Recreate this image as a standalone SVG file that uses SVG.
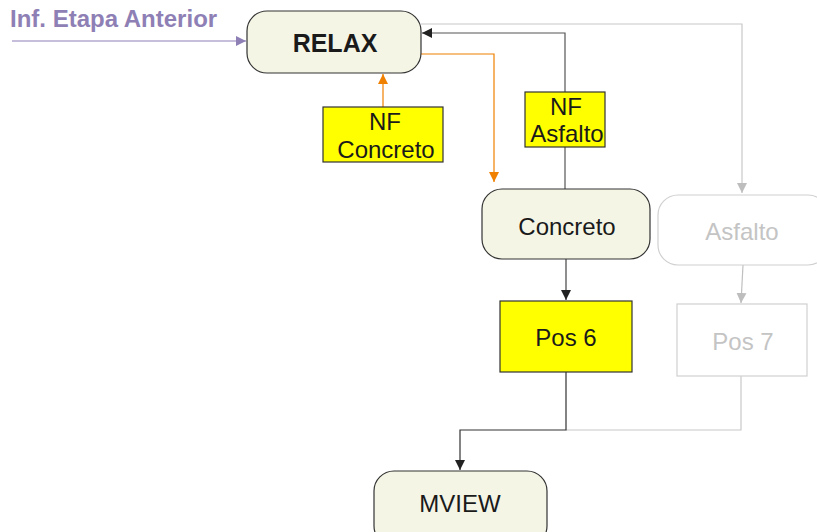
<svg xmlns="http://www.w3.org/2000/svg" width="817" height="532" viewBox="0 0 817 532">
<defs>
<style>
text{font-family:"Liberation Sans",Arial,sans-serif;font-size:24px;text-anchor:middle;fill:#1a1a1a}
.rnd{fill:#f5f5e6;stroke:#333;stroke-width:1.2}
.yel{fill:#ffff00;stroke:#333;stroke-width:1.2}
.ghost{fill:#fff;stroke:#d0d0d0;stroke-width:1.2}
.gtxt{fill:#c4c4c4}
.c{fill:none;stroke-width:1.2}
</style>
<marker id="aBlack" viewBox="0 0 10 10" refX="10" refY="5" markerWidth="10" markerHeight="10" markerUnits="userSpaceOnUse" orient="auto"><path d="M0,0L10,5L0,10z" fill="#222"/></marker>
<marker id="aOrange" viewBox="0 0 10 10" refX="10" refY="5" markerWidth="10" markerHeight="10" markerUnits="userSpaceOnUse" orient="auto"><path d="M0,0L10,5L0,10z" fill="#f08000"/></marker>
<marker id="aGrey" viewBox="0 0 10 10" refX="10" refY="5" markerWidth="10" markerHeight="10" markerUnits="userSpaceOnUse" orient="auto"><path d="M0,0L10,5L0,10z" fill="#bdbdbd"/></marker>
<marker id="aPurple" viewBox="0 0 10 10" refX="10" refY="5" markerWidth="10" markerHeight="10" markerUnits="userSpaceOnUse" orient="auto"><path d="M0,0L10,5L0,10z" fill="#8e7fb5"/></marker>
</defs>
<g id="connectors">
<path class="c" d="M12,41H246" stroke="#8e7fb5" marker-end="url(#aPurple)"/>
<path class="c" d="M421,24H742V193" stroke="#c8c8c8" marker-end="url(#aGrey)"/>
<path class="c" d="M565,92V33H422" stroke="#555" marker-end="url(#aBlack)"/>
<path class="c" d="M565,147V189" stroke="#555"/>
<path class="c" d="M421,54H494V182" stroke="#f08000" marker-end="url(#aOrange)"/>
<path class="c" d="M383,107V74" stroke="#f08000" marker-end="url(#aOrange)"/>
<path class="c" d="M566,259V300" stroke="#444" marker-end="url(#aBlack)"/>
<path class="c" d="M743,265L741,303" stroke="#c0c0c0" marker-end="url(#aGrey)"/>
<path class="c" d="M741,376V430H566" stroke="#c8c8c8"/>
<path class="c" d="M566,372V430H460V470" stroke="#333" marker-end="url(#aBlack)"/>
</g>
<g id="label-inf"><text x="10" y="27" style="text-anchor:start;font-weight:bold;fill:#8e7fb5;font-size:24px">Inf. Etapa Anterior</text></g>
<g id="relax"><rect class="rnd" x="247" y="11" width="174" height="62" rx="20"/><text x="335" y="52" style="font-weight:bold;font-size:25px">RELAX</text></g>
<g id="nf-concreto"><rect class="yel" x="323" y="107" width="120" height="55"/><text x="385" y="130">NF</text><text x="386" y="158">Concreto</text></g>
<g id="nf-asfalto"><rect class="yel" x="525" y="92" width="80" height="55"/><text x="566" y="115">NF</text><text x="567" y="142">Asfalto</text></g>
<g id="concreto"><rect class="rnd" x="482" y="189" width="168" height="70" rx="20"/><text x="567" y="235">Concreto</text></g>
<g id="asfalto"><rect class="ghost" x="658" y="195" width="170" height="70" rx="20"/><text class="gtxt" x="742" y="240">Asfalto</text></g>
<g id="pos6"><rect class="yel" x="500" y="301" width="132" height="71"/><text x="566" y="346">Pos 6</text></g>
<g id="pos7"><rect class="ghost" x="677" y="304" width="130" height="72"/><text class="gtxt" x="743" y="350">Pos 7</text></g>
<g id="mview"><rect class="rnd" x="374" y="471" width="173" height="75" rx="20"/><text x="460" y="512">MVIEW</text></g>
</svg>
